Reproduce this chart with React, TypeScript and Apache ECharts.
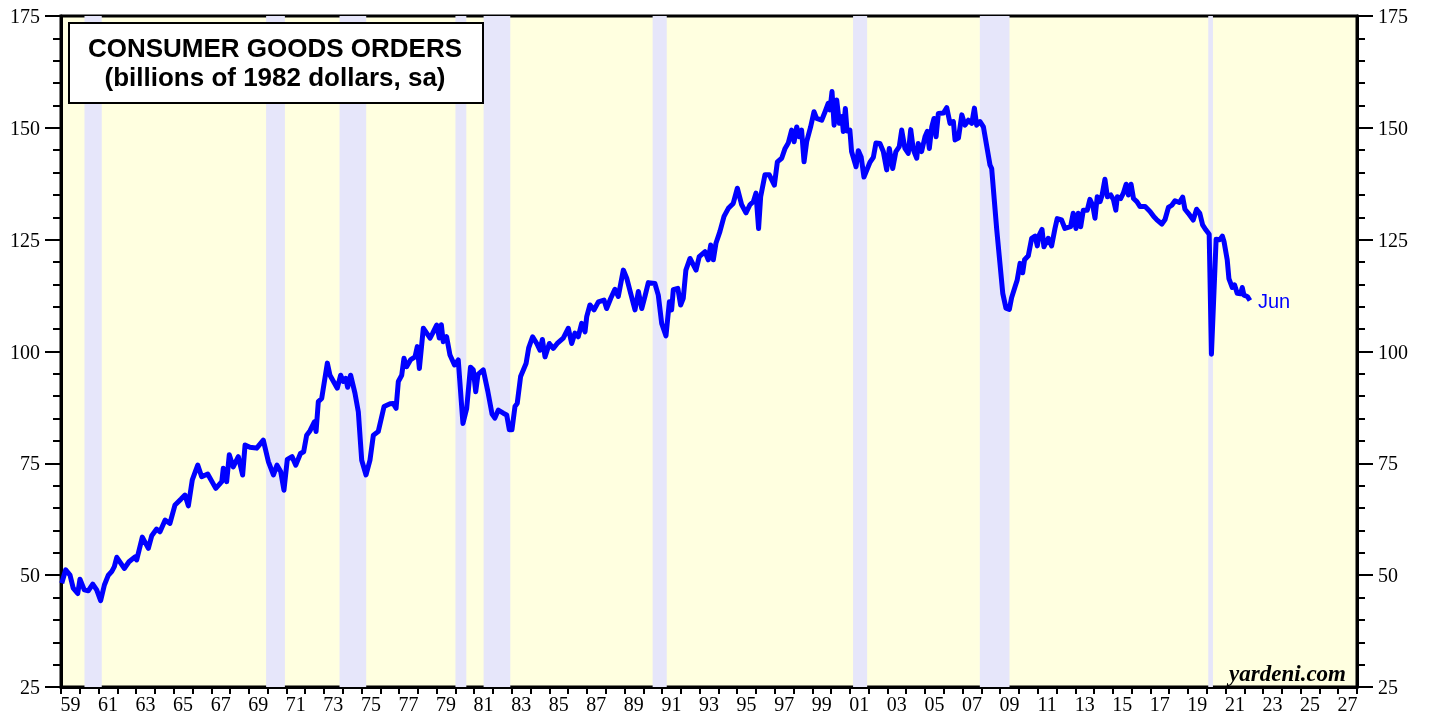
import React, { useEffect, useRef } from "react";
import * as echarts from "echarts";

const yearLabels = [
  "59","60","61","62","63","64","65","66","67","68","69",
  "70","71","72","73","74","75","76","77","78","79",
  "80","81","82","83","84","85","86","87","88","89",
  "90","91","92","93","94","95","96","97","98","99",
  "00","01","02","03","04","05","06","07","08","09",
  "10","11","12","13","14","15","16","17","18","19",
  "20","21","22","23","24","25","26","27",
];

const yTicks = [25, 50, 75, 100, 125, 150, 175];

const recessions = [
  [1960.25, 1961.17], [1969.92, 1970.92], [1973.83, 1975.25], [1980.0, 1980.58],
  [1981.5, 1982.92], [1990.5, 1991.25], [2001.17, 2001.92], [2007.92, 2009.5],
  [2020.08, 2020.33],
];

const orders1959 = [
  [1959.04,48.2],[1959.25,51.2],[1959.48,50.0],[1959.65,47.1],[1959.89,45.9],[1960.01,49.1],[1960.24,46.7],[1960.45,46.5],[1960.69,48.0],[1960.9,46.7],[1961.11,44.3],[1961.31,47.8],[1961.52,50.0],[1961.7,50.8],[1961.84,51.9],[1961.97,54.0],[1962.37,51.5],[1962.62,53.0],[1962.94,54.1],[1963.03,53.4],[1963.33,58.5],[1963.65,56.0],[1963.83,58.8],[1964.09,60.3],[1964.27,59.7],[1964.54,62.3],[1964.8,61.6],[1965.07,65.7],[1965.39,67.0],[1965.6,67.9],[1965.78,65.5],[1965.99,71.3],[1966.28,74.6],[1966.49,72.0],[1966.81,72.6],[1967.24,69.4],[1967.56,70.9],[1967.64,73.9],[1967.82,70.9],[1967.96,76.9],[1968.17,74.2],[1968.44,76.5],[1968.67,72.4],[1968.8,79.1],[1969.06,78.6],[1969.42,78.4],[1969.77,80.2],
];

const orders1970 = [
  [1970.04,75.4],[1970.31,72.4],[1970.5,74.6],[1970.7,73.1],[1970.87,69.0],[1971.05,75.9],[1971.3,76.5],[1971.5,74.6],[1971.75,77.2],[1971.92,77.6],[1972.08,81.3],[1972.26,82.3],[1972.49,84.3],[1972.58,82.1],[1972.7,88.8],[1972.88,89.5],[1973.18,97.4],[1973.32,94.7],[1973.71,91.8],[1973.89,94.7],[1974.03,93.3],[1974.16,94.0],[1974.26,92.0],[1974.42,94.7],[1974.65,90.7],[1974.83,86.5],[1975.01,75.7],[1975.24,72.4],[1975.45,75.7],[1975.63,81.3],[1975.89,82.1],[1976.2,87.7],[1976.52,88.3],[1976.69,88.4],[1976.84,87.3],[1976.96,93.3],[1977.14,94.7],[1977.26,98.5],[1977.4,96.6],[1977.62,98.2],[1977.85,98.8],[1977.97,101.1],[1978.08,96.2],[1978.29,105.2],[1978.47,104.1],[1978.65,103.0],[1978.79,104.1],[1979.0,105.9],[1979.14,103.0],[1979.25,106.0],[1979.35,102.2],[1979.53,103.3],[1979.71,99.2],[1979.95,97.0],
];

const orders1980 = [
  [1980.15,98.1],[1980.4,83.9],[1980.6,87.3],[1980.8,96.5],[1980.95,95.9],[1981.08,91.0],[1981.2,94.9],[1981.48,95.9],[1981.72,91.2],[1981.95,86.0],[1982.1,85.1],[1982.28,86.9],[1982.55,86.2],[1982.73,85.8],[1982.87,82.5],[1983.01,82.5],[1983.17,87.7],[1983.29,88.4],[1983.47,94.4],[1983.76,97.3],[1983.9,100.8],[1984.11,103.3],[1984.33,101.8],[1984.5,100.3],[1984.63,102.7],[1984.77,98.8],[1985.0,101.8],[1985.21,100.7],[1985.42,101.8],[1985.74,103.0],[1986.01,105.2],[1986.19,101.8],[1986.36,104.1],[1986.54,103.3],[1986.72,106.3],[1986.9,104.4],[1986.99,107.8],[1987.16,110.4],[1987.38,109.3],[1987.61,111.1],[1987.91,111.5],[1988.05,109.6],[1988.27,111.9],[1988.49,113.9],[1988.67,112.3],[1988.94,118.2],[1989.12,116.4],[1989.33,113.0],[1989.56,109.3],[1989.74,113.4],[1989.92,109.6],
];

const orders1990 = [
  [1990.09,112.3],[1990.27,115.4],[1990.62,115.2],[1990.8,112.6],[1990.98,106.3],[1991.21,103.5],[1991.39,111.1],[1991.51,109.3],[1991.6,113.8],[1991.84,114.1],[1991.99,110.4],[1992.13,111.9],[1992.27,118.2],[1992.49,120.8],[1992.81,118.2],[1992.98,121.2],[1993.29,122.3],[1993.46,120.5],[1993.59,123.8],[1993.73,120.5],[1993.87,124.2],[1994.08,126.8],[1994.3,130.2],[1994.53,132.0],[1994.79,133.1],[1995.01,136.5],[1995.24,132.8],[1995.47,131.0],[1995.68,132.8],[1995.86,133.5],[1996.0,135.4],[1996.14,127.5],[1996.25,134.6],[1996.48,139.5],[1996.71,139.5],[1996.98,137.2],[1997.14,142.4],[1997.37,143.2],[1997.55,145.4],[1997.72,146.6],[1997.9,149.5],[1998.03,146.9],[1998.17,150.2],[1998.31,148.0],[1998.43,149.5],[1998.56,142.4],[1998.7,146.9],[1998.91,150.2],[1999.09,153.6],[1999.23,152.1],[1999.5,151.7],[1999.68,153.6],[1999.85,155.5],[1999.94,154.0],
];

const orders2000 = [
  [2000.05,158.1],[2000.16,150.6],[2000.3,156.2],[2000.44,151.0],[2000.58,152.5],[2000.65,149.2],[2000.76,154.3],[2000.85,149.3],[2001.0,149.5],[2001.09,144.7],[2001.33,141.3],[2001.45,144.9],[2001.6,143.5],[2001.75,139.0],[2002.07,142.3],[2002.25,143.4],[2002.39,146.6],[2002.6,146.5],[2002.78,144.7],[2002.96,140.6],[2003.1,145.4],[2003.28,140.9],[2003.45,144.7],[2003.63,145.8],[2003.76,149.5],[2003.93,145.4],[2004.11,144.3],[2004.24,149.6],[2004.38,145.1],[2004.56,143.2],[2004.64,146.5],[2004.82,144.7],[2005.0,148.0],[2005.12,149.2],[2005.23,145.4],[2005.36,150.2],[2005.48,152.1],[2005.59,148.0],[2005.71,153.2],[2005.98,153.3],[2006.16,154.5],[2006.33,151.0],[2006.51,151.4],[2006.6,147.3],[2006.78,147.7],[2006.96,152.9],[2007.13,150.6],[2007.31,151.7],[2007.49,151.0],[2007.63,154.4],[2007.75,150.6],[2007.93,151.4],[2008.11,150.2],[2008.32,145.1],[2008.46,141.7],[2008.55,140.9],[2008.82,127.2],[2008.99,119.7],[2009.14,113.0],[2009.31,109.7],[2009.49,109.4],[2009.61,112.0],[2009.79,114.4],[2009.91,116.0],
];

const orders2010 = [
  [2010.06,119.7],[2010.2,117.6],[2010.3,120.5],[2010.5,121.4],[2010.68,125.3],[2010.86,125.8],[2010.98,123.6],[2011.08,126.0],[2011.23,127.3],[2011.33,123.4],[2011.56,125.3],[2011.74,123.6],[2011.92,127.5],[2012.04,129.7],[2012.27,129.4],[2012.45,127.5],[2012.75,127.9],[2012.89,130.9],[2013.04,127.5],[2013.16,130.9],[2013.29,127.9],[2013.43,131.6],[2013.64,131.6],[2013.78,134.0],[2013.93,132.7],[2014.05,129.8],[2014.17,134.6],[2014.32,133.5],[2014.42,134.8],[2014.58,138.5],[2014.71,134.6],[2014.89,135.0],[2015.03,134.0],[2015.16,131.6],[2015.24,134.6],[2015.42,134.2],[2015.56,135.4],[2015.71,137.4],[2015.83,135.0],[2015.97,137.4],[2016.1,134.2],[2016.28,133.5],[2016.45,132.4],[2016.72,132.4],[2016.98,131.3],[2017.19,130.1],[2017.33,129.5],[2017.61,128.5],[2017.78,129.5],[2017.96,132.2],[2018.14,132.7],[2018.31,133.7],[2018.54,133.3],[2018.72,134.5],[2018.84,131.8],[2019.02,130.9],[2019.28,129.4],[2019.46,131.8],[2019.63,130.9],[2019.78,128.3],[2019.95,127.2],
];

const orders2020 = [
  [2020.13,126.2],[2020.25,99.4],[2020.5,125.1],[2020.7,125.0],[2020.83,125.8],[2020.92,124.6],[2021.09,120.5],[2021.18,116.3],[2021.36,114.3],[2021.48,114.9],[2021.62,113.0],[2021.8,112.9],[2021.89,114.3],[2021.98,112.6],[2022.16,112.3],[2022.3,111.4],
];

const lastLabel = "Jun";
const titleLine1 = "CONSUMER GOODS ORDERS";
const titleLine2 = "(billions of 1982 dollars, sa)";
const sourceText = "yardeni.com";

export default function App() {
  const ref = useRef<HTMLDivElement>(null);

  useEffect(() => {
    if (!ref.current) return;
    const chart = echarts.init(ref.current, null, { renderer: "svg" });
    const series = [
      ...orders1959, ...orders1970, ...orders1980, ...orders1990,
      ...orders2000, ...orders2010, ...orders2020,
    ];
    const serif = "'Liberation Serif', 'Times New Roman', serif";
    const sans = "'Liberation Sans', Arial, sans-serif";
    const yAxisCommon = {
      type: "value",
      min: yTicks[0],
      max: yTicks[yTicks.length - 1],
      interval: 25,
      splitLine: { show: false },
      axisLine: { show: true, lineStyle: { color: "#000", width: 3 } },
      axisTick: { show: true, inside: false, length: 16, lineStyle: { color: "#000", width: 2 } },
      minorTick: { show: true, splitNumber: 5, length: 8, lineStyle: { color: "#000", width: 2 } },
      minorSplitLine: { show: false },
      axisLabel: { color: "#000", fontFamily: serif, fontSize: 20, margin: 21 },
    };
    chart.setOption({
      animation: false,
      grid: {
        left: 61, right: 72, top: 16, bottom: 34,
        show: true, backgroundColor: "#ffffe0", borderColor: "#000", borderWidth: 3,
      },
      xAxis: [
        {
          type: "category",
          data: yearLabels,
          boundaryGap: true,
          position: "bottom",
          axisLine: { show: true, lineStyle: { color: "#000", width: 3 } },
          axisTick: { show: true, interval: 0, length: 7, lineStyle: { color: "#000", width: 2 } },
          axisLabel: { interval: 1, color: "#000", fontFamily: serif, fontSize: 20, margin: 7 },
          splitLine: { show: false },
        },
        {
          type: "value",
          min: 1959,
          max: 2028,
          show: false,
          splitLine: { show: false },
        },
      ],
      yAxis: [
        { ...yAxisCommon, position: "left" },
        { ...yAxisCommon, position: "right" },
      ],
      series: [
        {
          type: "line",
          xAxisIndex: 1,
          yAxisIndex: 0,
          data: [],
          silent: true,
          z: 1,
          markArea: {
            silent: true,
            itemStyle: { color: "#e6e6fa" },
            data: recessions.map(([s, e]) => [{ xAxis: s }, { xAxis: e }]),
          },
        },
        {
          type: "line",
          xAxisIndex: 1,
          yAxisIndex: 0,
          data: series,
          z: 3,
          symbol: "none",
          lineStyle: { color: "#0000ff", width: 5, join: "round" },
          endLabel: {
            show: true,
            formatter: lastLabel,
            color: "#0000ff",
            fontFamily: sans,
            fontSize: 20,
            distance: 8,
          },
        },
      ],
      graphic: [
        {
          type: "rect",
          left: 68, top: 22,
          shape: { width: 414, height: 80 },
          style: { fill: "#fff", stroke: "#000", lineWidth: 2 },
          z: 10,
        },
        {
          type: "text",
          x: 275, y: 48,
          style: {
            text: titleLine1, fill: "#000", font: `bold 26px ${sans}`,
            textAlign: "center", textVerticalAlign: "middle",
          },
          z: 11,
        },
        {
          type: "text",
          x: 275, y: 77,
          style: {
            text: titleLine2, fill: "#000", font: `bold 26px ${sans}`,
            textAlign: "center", textVerticalAlign: "middle",
          },
          z: 11,
        },
        {
          type: "text",
          x: 1346, y: 673,
          style: {
            text: sourceText, fill: "#000", font: `italic bold 23px ${serif}`,
            textAlign: "right", textVerticalAlign: "middle",
          },
          z: 11,
        },
      ],
    });
    return () => chart.dispose();
  }, []);

  return (
    <div
      ref={ref}
      style={{ position: "fixed", left: 0, top: 0, width: 1429, height: 721 }}
    />
  );
}
